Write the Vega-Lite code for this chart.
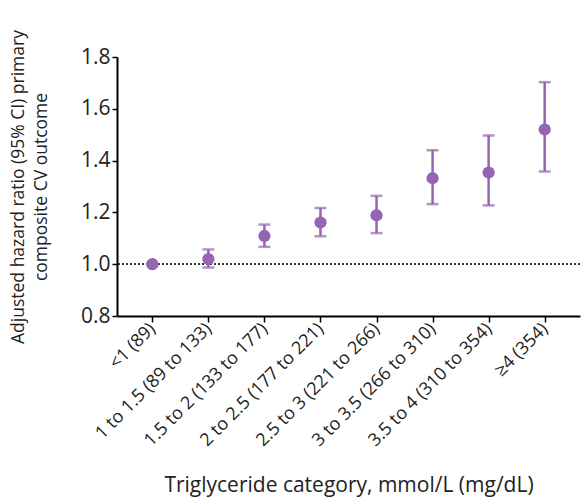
{
  "$schema": "https://vega.github.io/schema/vega-lite/v6.json",
  "autosize": "none",
  "width": 463,
  "height": 259,
  "padding": {"left": 117, "top": 57, "right": 2, "bottom": 184},
  "background": "white",
  "config": {
    "font": "Open Sans",
    "view": {"stroke": null}
  },
  "data": {
    "values": [
      {"cat": "<1 (89)", "hr": 1.0, "lo": 1.0, "hi": 1.0},
      {"cat": "1 to 1.5 (89 to 133)", "hr": 1.02, "lo": 0.987, "hi": 1.057},
      {"cat": "1.5 to 2 (133 to 177)", "hr": 1.109, "lo": 1.067, "hi": 1.153},
      {"cat": "2 to 2.5 (177 to 221)", "hr": 1.161, "lo": 1.108, "hi": 1.217},
      {"cat": "2.5 to 3 (221 to 266)", "hr": 1.189, "lo": 1.12, "hi": 1.264},
      {"cat": "3 to 3.5 (266 to 310)", "hr": 1.332, "lo": 1.232, "hi": 1.44},
      {"cat": "3.5 to 4 (310 to 354)", "hr": 1.354, "lo": 1.227, "hi": 1.497},
      {"cat": "≥4 (354)", "hr": 1.52, "lo": 1.358, "hi": 1.703}
    ]
  },
  "encoding": {
    "x": {
      "field": "cat",
      "type": "ordinal",
      "sort": null,
      "scale": {"type": "point", "padding": 0.63},
      "axis": {
        "title": "Triglyceride category, mmol/L (mg/dL)",
        "titleFontSize": 21,
        "titleFontWeight": "normal",
        "titleColor": "#222",
        "titlePadding": 25,
        "labelAngle": -45,
        "labelAlign": "right",
        "labelBaseline": "middle",
        "labelFontSize": 18,
        "labelColor": "#222",
        "labelPadding": 4,
        "domainColor": "black",
        "domainWidth": 2,
        "tickColor": "black",
        "tickWidth": 1.5,
        "tickSize": 6,
        "grid": false
      }
    }
  },
  "layer": [
    {
      "mark": {"type": "rule", "color": "#333", "strokeDash": [2, 2], "strokeWidth": 1},
      "encoding": {"y": {"datum": 1.0, "type": "quantitative"}, "x": null}
    },
    {
      "mark": {"type": "rule", "color": "#9565b3", "strokeWidth": 2.5},
      "encoding": {
        "y": {"field": "lo", "type": "quantitative"},
        "y2": {"field": "hi"}
      }
    },
    {
      "mark": {"type": "tick", "color": "#9565b3", "thickness": 2.5, "size": 12, "orient": "horizontal"},
      "encoding": {"y": {"field": "lo", "type": "quantitative"}}
    },
    {
      "mark": {"type": "tick", "color": "#9565b3", "thickness": 2.5, "size": 12, "orient": "horizontal"},
      "encoding": {"y": {"field": "hi", "type": "quantitative"}}
    },
    {
      "mark": {"type": "point", "filled": true, "color": "#9565b3", "opacity": 1, "size": 150},
      "encoding": {
        "y": {
          "field": "hr",
          "type": "quantitative",
          "scale": {"domain": [0.8, 1.8], "nice": false, "zero": false},
          "axis": {
            "title": ["Adjusted hazard ratio (95% CI) primary", "composite CV outcome"],
            "titleFontSize": 17.5,
            "titleFontWeight": "normal",
            "titleColor": "#222",
            "titleLineHeight": 23,
            "titlePadding": 30,
            "values": [0.8, 1.0, 1.2, 1.4, 1.6, 1.8],
            "format": ".1f",
            "labelFontSize": 21,
            "labelColor": "#222",
            "labelPadding": 2,
            "domainColor": "black",
            "domainWidth": 2,
            "tickColor": "black",
            "tickWidth": 1.5,
            "tickSize": 5,
            "grid": false
          }
        }
      }
    }
  ]
}
